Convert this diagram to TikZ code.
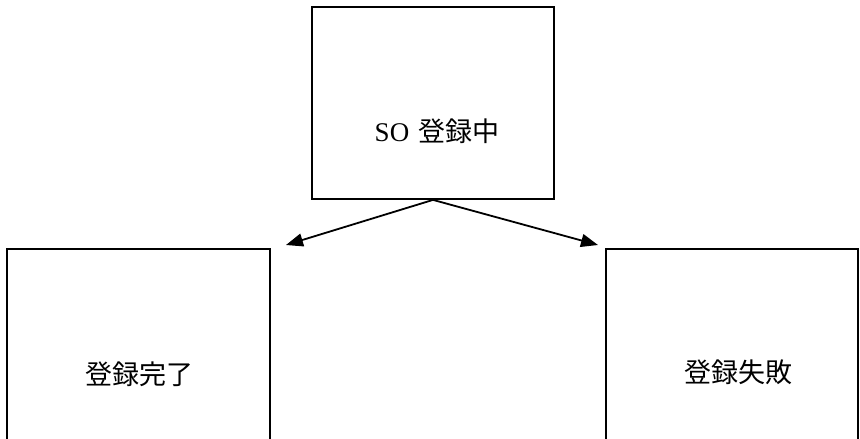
\documentclass[tikz,border=0pt]{standalone}
\usepackage{fontspec}
\setmainfont{Liberation Serif}
\newfontfamily\cjk{Noto Sans CJK JP}
\usetikzlibrary{arrows.meta}
\tikzset{
  state/.style={draw=black, line width=1.8pt, inner sep=0pt},
  statetext/.style={font=\fontsize{27}{32}\selectfont, inner sep=0pt},
  trans/.style={-{Triangle[length=17pt,width=13pt]}, line width=1.8pt},
}
\begin{document}
\begin{tikzpicture}[x=1pt,y=-1pt]
  \useasboundingbox (0,0) rectangle (860,439);
  \clip (0,0) rectangle (860,439);
  % states
  \node[state, minimum width=242pt, minimum height=192pt] (reg) at (433,103) {};
  \node[state, minimum width=263pt, minimum height=260pt] (done) at (138.5,379) {};
  \node[state, minimum width=252pt, minimum height=260pt] (fail) at (732,379) {};
  % labels
  \node[statetext] (reg-t) at (437,131) {SO\hspace{9pt}{\cjk 登録中}};
  \node[statetext] (done-t) at (139,374) {\cjk 登録完了};
  \node[statetext] (fail-t) at (738,372) {\cjk 登録失敗};
  % transitions
  \coordinate (done-in) at (286,245);
  \coordinate (fail-in) at (598,245);
  \draw[trans] (reg.south) -- (done-in);
  \draw[trans] (reg.south) -- (fail-in);
\end{tikzpicture}
\end{document}
